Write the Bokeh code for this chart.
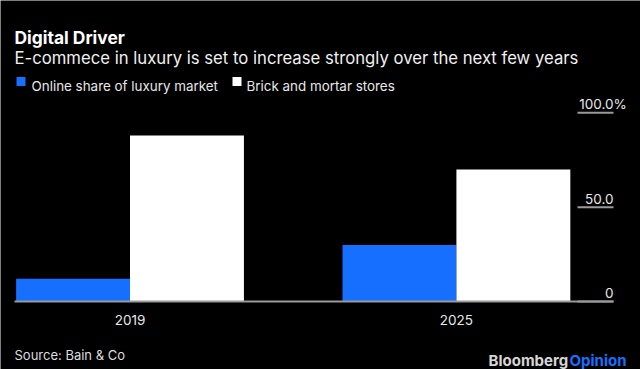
from bokeh.plotting import figure
from bokeh.models import Range1d, ColumnDataSource
from bokeh.transform import dodge
from bokeh.core.properties import value
from bokeh.embed import file_html
from bokeh.resources import INLINE

# ---- data ----
years = ["2019", "2025"]
online_share = [12, 30]
brick_and_mortar = [88, 70]
series_names = ["Online share of luxury market", "Brick and mortar stores"]
y_ticks = [0, 50, 100]
y_tick_labels = ["0", "50.0", "100.0"]
y_unit_suffix = "%"
title_text = "Digital Driver"
subtitle_text = "E-commece in luxury is set to increase strongly over the next few years"
source_text = "Source: Bain & Co"

# ---- styles ----
FONT = "Inter"
BLUE = "#166FFF"
WHITE = "#FFFFFF"
GRAY = "#9a9a9a"
TXT = "#e8e8e8"
series_colors = [BLUE, WHITE]

W, H = 640, 369
idx = list(range(len(years)))

p = figure(width=W, height=H, output_backend="svg", toolbar_location=None,
           x_range=Range1d(-0.3968, 1.5640), y_range=Range1d(-36.04, 159.5),
           x_axis_location=None, y_axis_location=None,
           min_border_left=0, min_border_right=0, min_border_top=0, min_border_bottom=0)
p.background_fill_color = "black"
p.border_fill_color = "black"
p.outline_line_color = None
p.grid.visible = False

# page-pixel helper ranges (layout of texts only)
p.extra_x_ranges = {"page": Range1d(0, W)}
p.extra_y_ranges = {"page": Range1d(H, 0)}

src = ColumnDataSource(dict(x=idx, online=online_share, brick=brick_and_mortar))
bw = 0.349
p.vbar(x=dodge("x", -bw / 2, range=p.x_range), top="online", width=bw, bottom=0,
       source=src, fill_color=BLUE, line_color=None)
p.vbar(x=dodge("x", bw / 2, range=p.x_range), top="brick", width=bw, bottom=0,
       source=src, fill_color=WHITE, line_color=None)

# baseline
p.segment(x0=[14], x1=[613], y0=[y_ticks[0]], y1=[y_ticks[0]], x_range_name="page",
          line_color=GRAY, line_width=2)

# category labels
p.text(x=idx, y=[0] * len(idx), text=years, text_align="center",
       text_baseline="alphabetic", y_offset=19,
       text_font=value(FONT), text_font_size="13.5px", text_color=TXT)

# y ticks (inside plot, right side)
n = len(y_ticks)
p.segment(x0=[577] * n, x1=[613] * n, y0=y_ticks, y1=y_ticks, x_range_name="page",
          line_color=GRAY, line_width=2)
p.text(x=[613] * n, y=y_ticks, text=y_tick_labels, x_range_name="page",
       text_align="right", text_baseline="alphabetic", y_offset=-8.5,
       text_font=value(FONT), text_font_size="13.5px", text_color=TXT)
p.text(x=[613], y=[y_ticks[-1]], text=[y_unit_suffix], x_range_name="page",
       text_align="left", text_baseline="alphabetic", y_offset=-8.5,
       text_font=value(FONT), text_font_size="13.5px", text_color=TXT)

# header
p.text(x=[14], y=[36.7], text=[title_text], x_range_name="page", y_range_name="page",
       text_font=value(FONT), text_font_style="bold", text_font_size="17.4px",
       text_color="white", text_baseline="alphabetic")
p.text(x=[14], y=[57.3], text=[subtitle_text], x_range_name="page", y_range_name="page",
       text_font=value(FONT), text_font_size="16.7px",
       text_color="#f0f0f0", text_baseline="alphabetic")

# legend
p.scatter(x=[20.5, 236.5], y=[81, 81], marker="square", size=9, color=series_colors,
          line_color=None, x_range_name="page", y_range_name="page")
p.text(x=[31, 246], y=[85.5, 85.5], text=series_names, x_range_name="page", y_range_name="page",
       text_font=value(FONT), text_font_size="13.4px", text_color=TXT,
       text_baseline="alphabetic")

# footer
p.text(x=[14], y=[354], text=[source_text], x_range_name="page", y_range_name="page",
       text_font=value(FONT), text_font_size="13px", text_color="#dddddd",
       text_baseline="alphabetic")
p.text(x=[488], y=[360], text=["Bloomberg"], x_range_name="page", y_range_name="page",
       text_font=value(FONT), text_font_style="bold", text_font_size="15px",
       text_color="#d6d6d6", text_baseline="alphabetic")
p.text(x=[569], y=[360], text=["Opinion"], x_range_name="page", y_range_name="page",
       text_font=value(FONT), text_font_style="bold", text_font_size="15px",
       text_color=BLUE, text_baseline="alphabetic")

open("out.html", "w").write(file_html(p, INLINE))
